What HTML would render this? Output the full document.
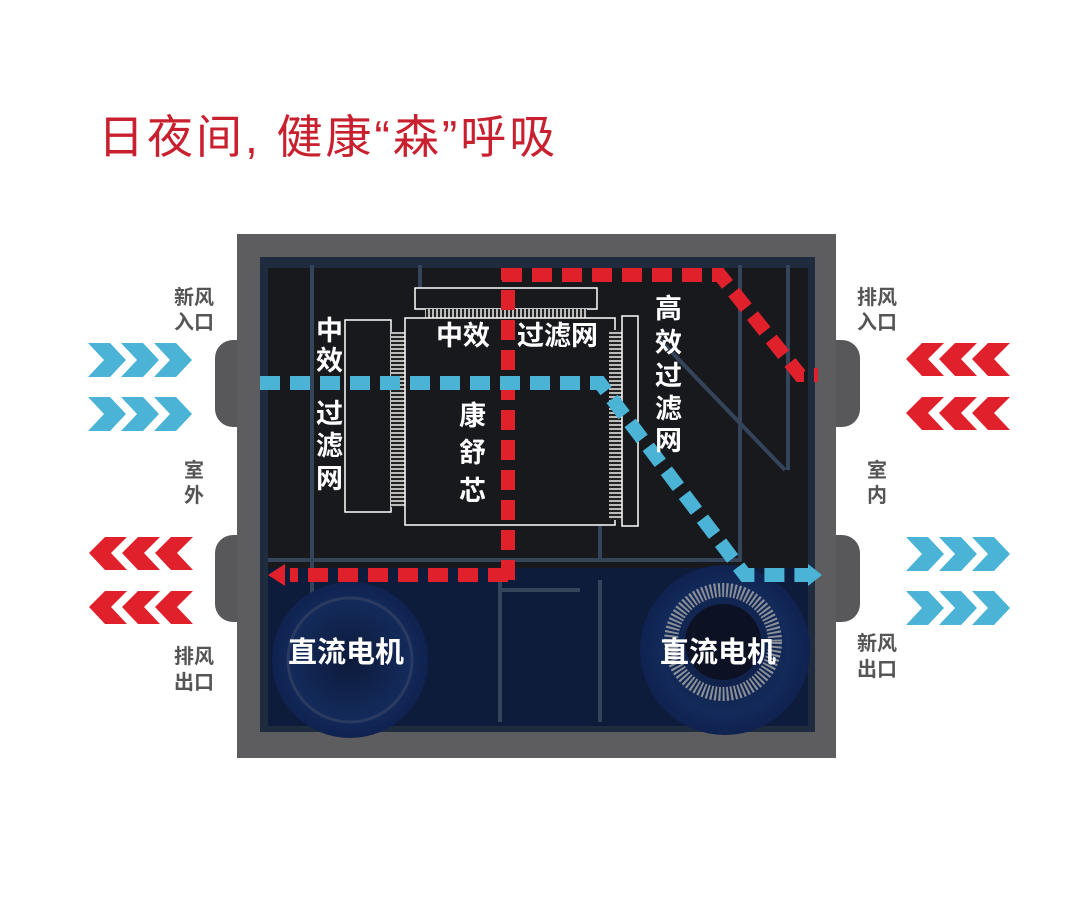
<!DOCTYPE html>
<html><head><meta charset="utf-8"><style>
html,body{margin:0;padding:0;background:#fff;}
svg{display:block;}
text{font-family:"Liberation Sans","Noto Sans CJK SC",sans-serif;}
</style></head><body>
<svg width="1080" height="914" viewBox="0 0 1080 914" xmlns="http://www.w3.org/2000/svg">
<defs>
<pattern id="hv" width="4" height="20" patternUnits="userSpaceOnUse"><rect width="4" height="20" fill="#222"/><rect width="2" height="20" fill="#bbb"/></pattern>
<pattern id="hh" width="20" height="4" patternUnits="userSpaceOnUse"><rect width="20" height="4" fill="#222"/><rect width="20" height="2" fill="#bbb"/></pattern>
<radialGradient id="mot" cx="0.5" cy="0.5" r="0.5"><stop offset="0" stop-color="#0d1a3a"/><stop offset="0.75" stop-color="#132a5a"/><stop offset="1" stop-color="#0f2250"/></radialGradient>
</defs>
<text x="98" y="153" font-size="46" fill="#c8202f" letter-spacing="3">日夜间, 健康“森”呼吸</text>

<rect x="215" y="340" width="40" height="87" rx="18" fill="#58575a"/>
<rect x="215" y="535" width="40" height="87" rx="18" fill="#58575a"/>
<rect x="818" y="340" width="42" height="87" rx="18" fill="#58575a"/>
<rect x="818" y="535" width="42" height="87" rx="18" fill="#58575a"/>
<rect x="237" y="234" width="599" height="524" fill="#5d5c5f"/>
<rect x="260" y="257" width="555" height="475" fill="#1f2b3e"/>
<rect x="268" y="268" width="540" height="300" fill="#17191d"/>
<rect x="268" y="568" width="540" height="158" fill="#0e1c3c"/>
<g stroke="#34445a" stroke-width="4" fill="none">
<line x1="312" y1="265" x2="312" y2="720"/>
<line x1="420" y1="265" x2="420" y2="290"/>
<line x1="268" y1="560" x2="600" y2="560"/>
<polyline points="600,525 600,560 740,560 740,265"/>
<line x1="660" y1="340" x2="785" y2="470"/>
<line x1="788" y1="265" x2="788" y2="470"/>
<line x1="500" y1="590" x2="580" y2="590"/>
<line x1="600" y1="580" x2="600" y2="722"/>
<line x1="500" y1="580" x2="500" y2="722"/>
</g>
<circle cx="350" cy="660" r="78" fill="url(#mot)"/>
<circle cx="350" cy="660" r="62" fill="none" stroke="#2a3a60" stroke-width="3"/>
<circle cx="725" cy="650" r="85" fill="url(#mot)"/>
<circle cx="723" cy="642" r="52" fill="none" stroke="#8a8f98" stroke-width="14" stroke-dasharray="2 2"/>
<circle cx="723" cy="642" r="38" fill="#0c1224"/>

<rect x="415" y="288" width="182" height="21" fill="#17191d" stroke="#fff" stroke-width="1.5"/>
<rect x="425" y="309" width="162" height="9" fill="url(#hv)"/>
<rect x="345" y="320" width="46" height="192" fill="#17191d" stroke="#fff" stroke-width="1.5"/>
<rect x="391" y="332" width="14" height="175" fill="url(#hh)"/>
<rect x="405" y="318" width="210" height="207" fill="#17191d" stroke="#fff" stroke-width="1.5"/>
<rect x="609" y="330" width="13" height="190" fill="url(#hh)"/>
<rect x="622" y="316" width="16" height="210" fill="#17191d" stroke="#fff" stroke-width="1.5"/>

<g stroke="#e0212b" stroke-width="14" fill="none" stroke-dasharray="20 10">
<line x1="508" y1="580" x2="508" y2="268"/>
<polyline points="502,275 720,275 800,375 818,375"/>
<line x1="508" y1="575" x2="290" y2="575"/>
</g>
<polygon points="268,575 285,564 285,586" fill="#e0212b"/>
<g stroke="#4ab3d6" stroke-width="14" fill="none" stroke-dasharray="20 10">
<polyline points="260,383 600,383 745,575 808,575"/>
</g>
<polygon points="822,575 808,564 808,586" fill="#4ab3d6"/>

<g fill="#fff" font-size="27" font-weight="bold">
<text x="316" y="340">中</text><text x="316" y="370">效</text>
<text x="316" y="423">过</text><text x="316" y="455">滤</text><text x="316" y="488">网</text>
<text x="436" y="345">中效</text><text x="517" y="345">过滤网</text>
<text x="459" y="425">康</text><text x="459" y="462">舒</text><text x="459" y="500">芯</text>
<text x="655" y="318">高</text><text x="655" y="352">效</text><text x="655" y="385">过</text><text x="655" y="418">滤</text><text x="655" y="450">网</text>
<text x="288" y="662" font-size="29">直流电机</text>
<text x="660" y="662" font-size="29">直流电机</text>
</g>

<g fill="#555" font-size="20" font-weight="bold">
<text x="174" y="304">新风</text><text x="174" y="329">入口</text>
<text x="184" y="477">室</text><text x="184" y="502">外</text>
<text x="174" y="663">排风</text><text x="174" y="689">出口</text>
<text x="857" y="304">排风</text><text x="857" y="329">入口</text>
<text x="867" y="477">室</text><text x="867" y="502">内</text>
<text x="857" y="650">新风</text><text x="857" y="676">出口</text>
</g>

<g id="bR" fill="#4ab3d6">
<polygon points="88,343 110,343 126,360 110,377 88,377 104,360"/>
<polygon points="121,343 143,343 159,360 143,377 121,377 137,360"/>
<polygon points="154,343 176,343 192,360 176,377 154,377 170,360"/>
</g>
<use href="#bR" y="54"/>
<g id="rL" fill="#e0212b">
<polygon points="193,537 171,537 155,553 171,570 193,570 177,553"/>
<polygon points="160,537 138,537 122,553 138,570 160,570 144,553"/>
<polygon points="127,537 105,537 89,553 105,570 127,570 111,553"/>
</g>
<use href="#rL" y="54"/>
<use href="#rL" x="817" y="-194"/>
<use href="#rL" x="817" y="-140"/>
<use href="#bR" x="818" y="194"/>
<use href="#bR" x="818" y="248"/>
</svg>
</body></html>
